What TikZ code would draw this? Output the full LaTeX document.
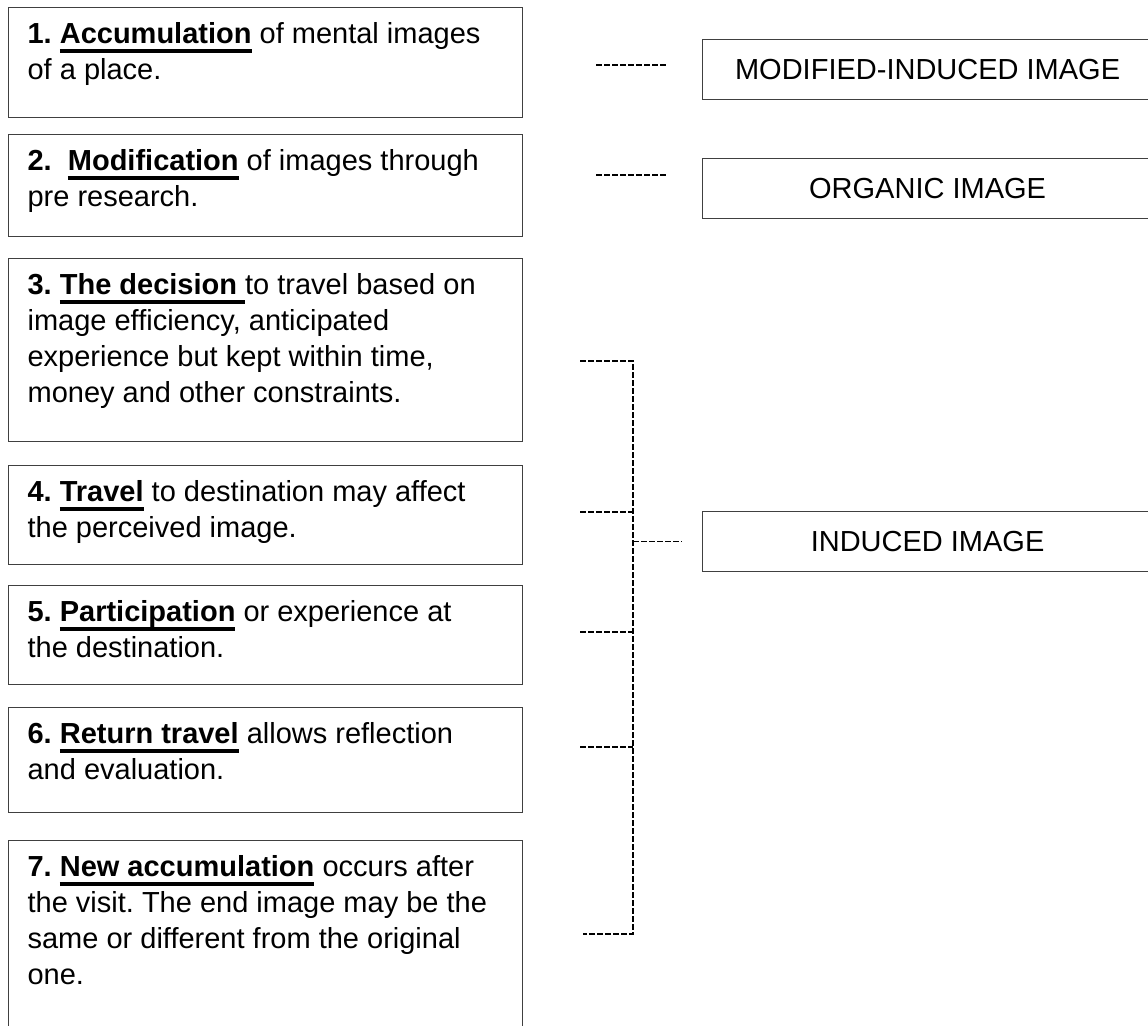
\documentclass[tikz,border=0pt]{standalone}
\usepackage{fontspec}
\setmainfont{Liberation Sans}
\colorlet{boxLine}{black!75}
\colorlet{dashLine}{black}
\newcommand{\stageFont}{\fontsize{14.5pt}{18pt}\selectfont\frenchspacing}
\newcommand{\keyword}[1]{\setbox0=\hbox{\bfseries #1}\rlap{\rule[-4.6pt]{\wd0}{1.8pt}}\box0\relax}
\newcommand{\stagetext}[2]{\parbox[t][#1][t]{238pt}{\raggedright\rule{0pt}{17.9pt}#2}}
\tikzstyle{stage}=[draw=boxLine,line width=0.6pt,anchor=north west,inner xsep=9.5pt,inner ysep=0pt,font=\stageFont]
\tikzstyle{imageType}=[draw=boxLine,line width=0.6pt,anchor=north west,minimum width=225pt,minimum height=30pt,inner sep=0pt,font=\stageFont]
\tikzstyle{link}=[draw=dashLine,line width=0.75pt,dash pattern=on 3pt off 1pt]

\begin{document}
\begin{tikzpicture}[x=0.5pt,y=-0.5pt]
\clip (0,0) rectangle (1148,1025);
        % stages of the travel experience
        \node[stage] (accumulation) at (8,7)
                {\stagetext{55pt}{\textbf{1.} \keyword{Accumulation} of mental images\\ of a place.}};
        \node[stage] (modification) at (8,134)
                {\stagetext{51pt}{\textbf{2.}\ \ \keyword{Modification} of images through\\ pre research.}};
        \node[stage] (decision) at (8,258)
                {\stagetext{91.5pt}{\textbf{3.} \keyword{The decision\ }to travel based on\\ image efficiency, anticipated\\ experience but kept within time,\\ money and other constraints.}};
        \node[stage] (travel) at (8,465)
                {\stagetext{49.5pt}{\textbf{4.} \keyword{Travel} to destination may affect\\ the perceived image.}};
        \node[stage] (participation) at (8,585)
                {\stagetext{49.5pt}{\textbf{5.} \keyword{Participation} or experience at\\ the destination.}};
        \node[stage] (return) at (8,707)
                {\stagetext{52.5pt}{\textbf{6.} \keyword{Return travel} allows reflection\\ and evaluation.}};
        \node[stage] (newAccumulation) at (8,840)
                {\stagetext{100pt}{\textbf{7.} \keyword{New accumulation} occurs after\\ the visit. The end image may be the\\ same or different from the original\\ one.}};
        % image types
        \node[imageType] (modifiedInduced) at (702,39) {MODIFIED-INDUCED IMAGE};
        \node[imageType] (organic) at (702,158) {ORGANIC IMAGE};
        \node[imageType] (induced) at (702,511) {INDUCED IMAGE};
        % dashed links
        \coordinate (modifiedStart) at (596,65);
        \coordinate (organicStart) at (596,175);
        \draw[link] (modifiedStart) -- ++(71,0);
        \draw[link] (organicStart) -- ++(71,0);
        \coordinate (braceTop) at (633,361);
        \coordinate (braceBottom) at (633,934);
        \coordinate (braceMid) at (braceTop |- induced.west);
        \coordinate (inducedEnd) at (682,0);
        \draw[link] (580,361) -- (braceTop) -- (braceBottom) -- (583,934);
        \foreach \y [count=\i] in {512,632,747} {
                \coordinate (tick\i) at (580,\y);
                \draw[link] (tick\i) -- (braceTop |- tick\i);
        }
        \draw[link] (braceMid) -- (braceMid -| inducedEnd);
\end{tikzpicture}
\end{document}
